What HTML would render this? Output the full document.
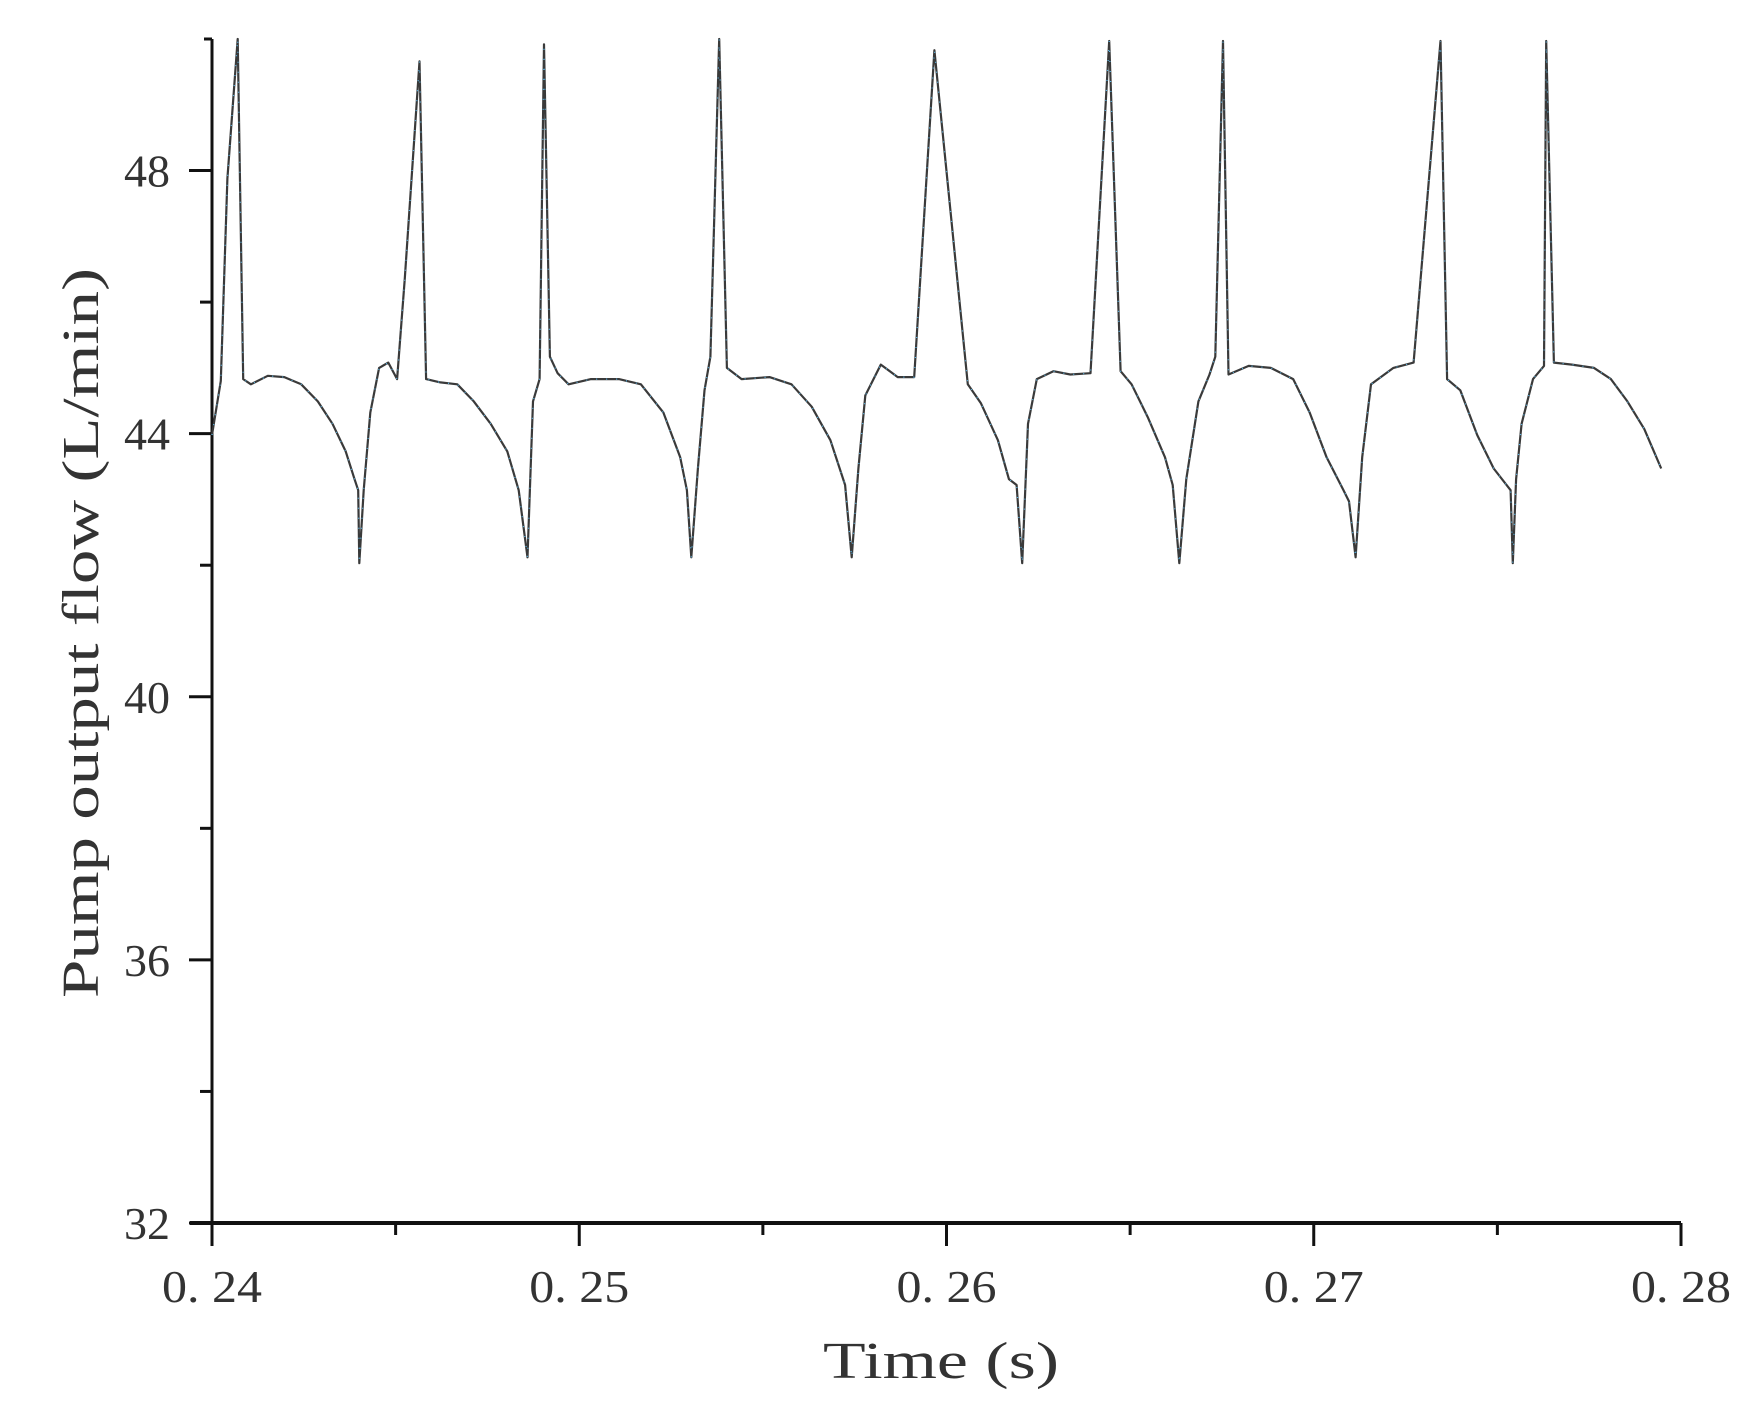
<!DOCTYPE html>
<html><head><meta charset="utf-8"><style>
html,body{margin:0;padding:0;background:#fff;}
svg{display:block;}
text{font-family:"Liberation Serif","Noto Serif CJK SC",serif;fill:#333;}
</style></head><body>
<svg id="chart" width="1739" height="1402" viewBox="0 0 1739 1402" xmlns="http://www.w3.org/2000/svg">
<g id="axes"></g>
<g id="plot"></g>
</svg>
<script>
const times = [0.24000,0.24024,0.24042,0.24070,0.24085,0.24106,0.24152,0.24197,0.24243,0.24288,0.24328,0.24364,0.24388,0.24398,0.24401,0.24413,0.24431,0.24455,0.24480,0.24504,0.24525,0.24565,0.24583,0.24622,0.24668,0.24713,0.24759,0.24804,0.24835,0.24859,0.24874,0.24892,0.24904,0.24920,0.24941,0.24971,0.25032,0.25108,0.25168,0.25229,0.25275,0.25293,0.25305,0.25323,0.25341,0.25357,0.25381,0.25402,0.25442,0.25518,0.25578,0.25633,0.25684,0.25724,0.25742,0.25760,0.25779,0.25821,0.25867,0.25912,0.25967,0.26058,0.26094,0.26140,0.26170,0.26191,0.26206,0.26222,0.26246,0.26291,0.26337,0.26392,0.26443,0.26474,0.26504,0.26549,0.26595,0.26616,0.26634,0.26653,0.26686,0.26716,0.26732,0.26753,0.26768,0.26823,0.26883,0.26944,0.26989,0.27035,0.27081,0.27096,0.27114,0.27132,0.27156,0.27217,0.27272,0.27345,0.27363,0.27399,0.27445,0.27490,0.27536,0.27542,0.27551,0.27566,0.27597,0.27627,0.27633,0.27654,0.27703,0.27763,0.27809,0.27854,0.27900,0.27946];
const flows = [43.98,44.80,47.88,50.00,44.83,44.75,44.88,44.86,44.75,44.49,44.15,43.73,43.31,43.14,42.03,43.14,44.32,45.00,45.08,44.83,46.36,49.66,44.83,44.78,44.75,44.49,44.15,43.73,43.14,42.12,44.49,44.83,49.92,45.17,44.92,44.75,44.83,44.83,44.75,44.32,43.64,43.14,42.12,43.47,44.66,45.17,50.00,45.00,44.83,44.86,44.75,44.41,43.90,43.22,42.12,43.47,44.58,45.05,44.86,44.86,49.83,44.75,44.46,43.90,43.31,43.22,42.03,44.15,44.83,44.95,44.90,44.92,49.97,44.95,44.75,44.24,43.64,43.22,42.03,43.31,44.49,44.90,45.17,49.97,44.90,45.03,45.00,44.83,44.32,43.64,43.14,42.97,42.12,43.64,44.75,45.00,45.08,49.97,44.83,44.66,43.98,43.47,43.14,42.03,43.31,44.15,44.83,45.03,49.97,45.08,45.05,45.00,44.83,44.49,44.07,43.47];
const xTicks = [0.24,0.25,0.26,0.27,0.28];
const xTickLabels = ["0. 24","0. 25","0. 26","0. 27","0. 28"];
const xMinor = [0.245,0.255,0.265,0.275];
const yTicks = [32,36,40,44,48];
const yTickLabels = ["32","36","40","44","48"];
const yMinor = [34,38,42,46];

const X0=212, X1=1681, Y0=1223, Y1=39;
const xMin=0.24, xMax=0.28, yMin=32, yMax=50;
const sx = t => X0 + (t-xMin)/(xMax-xMin)*(X1-X0);
const sy = v => Y0 - (v-yMin)/(yMax-yMin)*(Y0-Y1);
const NS="http://www.w3.org/2000/svg";
const axes=document.getElementById('axes'), plot=document.getElementById('plot');
function mk(tag, attrs, parent){const e=document.createElementNS(NS,tag);for(const k in attrs)e.setAttribute(k,attrs[k]);parent.appendChild(e);return e;}

let e;
e=mk('line',{x1:X0,y1:Y1,x2:X0,y2:Y0+1,stroke:'#111','stroke-width':3},axes);


e=mk('line',{x1:X0-22,y1:Y0,x2:X1,y2:Y0,stroke:'#111','stroke-width':4},axes);


e=mk('line',{x1:X0-8,y1:Y1,x2:X0,y2:Y1,stroke:'#111','stroke-width':3},axes);



xTicks.forEach((t,i)=>{
  const x=sx(t);
  e=mk('line',{x1:x,y1:Y0,x2:x,y2:Y0+23,stroke:'#111','stroke-width':3},axes);
  
  
  e=mk('text',{x:x,y:1302,'text-anchor':'middle','font-size':46,textLength:100,lengthAdjust:'spacingAndGlyphs'},axes);
  e.textContent=xTickLabels[i];
  
  
});
xMinor.forEach(t=>{
  const x=sx(t);
  e=mk('line',{x1:x,y1:Y0,x2:x,y2:Y0+12,stroke:'#111','stroke-width':3},axes);
  
  
});
yTicks.forEach((v,i)=>{
  const y=sy(v);
  e=mk('line',{x1:X0-23,y1:y,x2:X0,y2:y,stroke:'#111','stroke-width':3},axes);
  
  
  e=mk('text',{x:170,y:y+16,'text-anchor':'end','font-size':46,textLength:46,lengthAdjust:'spacingAndGlyphs'},axes);
  e.textContent=yTickLabels[i];
  
  
});
yMinor.forEach(v=>{
  const y=sy(v);
  e=mk('line',{x1:X0-12,y1:y,x2:X0,y2:y,stroke:'#111','stroke-width':3},axes);
  
  
});
e=mk('text',{x:941,y:1378,'text-anchor':'middle','font-size':52,textLength:236,lengthAdjust:'spacingAndGlyphs'},axes);
e.textContent='Time (s)';


e=mk('text',{x:0,y:0,'text-anchor':'middle','font-size':52,textLength:730,lengthAdjust:'spacingAndGlyphs',transform:'translate(98,633) rotate(-90)'},axes);
e.textContent='Pump output flow (L/min)';



const d = times.map((t,i)=>(i?'L':'M')+sx(t).toFixed(1)+','+sy(flows[i]).toFixed(1)).join(' ');
e=mk('path',{d:d,fill:'none',stroke:'#3a3a3a','stroke-width':2.2,'stroke-linejoin':'round'},plot);


e=mk('path',{d:d,fill:'none',stroke:'#5ab8ea','stroke-width':1.2,'stroke-dasharray':'1 9'},plot);


</script>
</body></html>
